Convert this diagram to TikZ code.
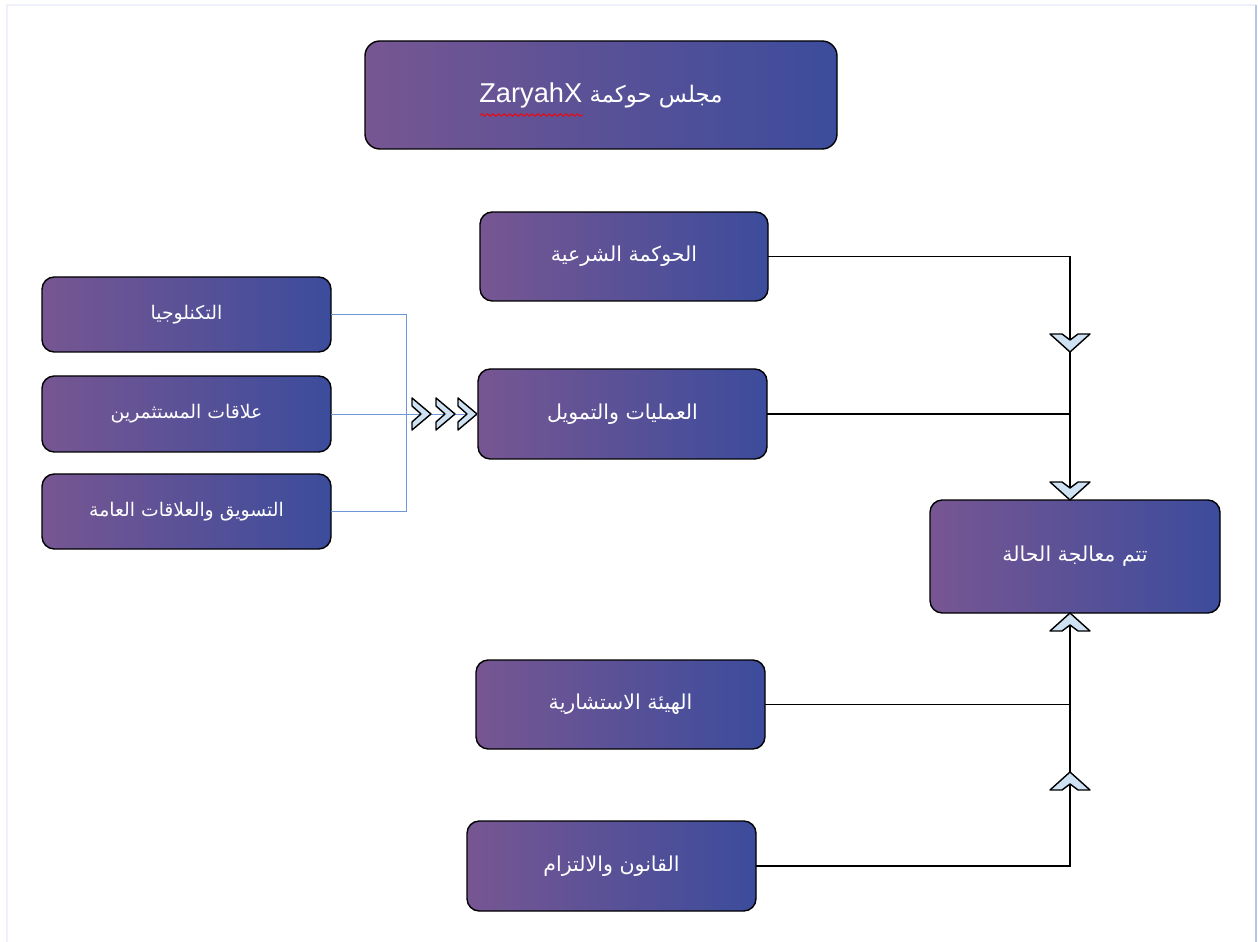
\documentclass[tikz,border=0pt]{standalone}
\usepackage{fontspec}
\usetikzlibrary{decorations.pathmorphing}
\TeXXeTstate=1
\newfontfamily\arabicfont[Script=Arabic]{DejaVu Sans}
\newfontfamily\latinfont{Liberation Sans}
\definecolor{boxL}{HTML}{775692}
\definecolor{boxR}{HTML}{3C4C9C}
\definecolor{chevfill}{HTML}{CFE2F3}
\definecolor{blueline}{HTML}{7096DA}
\definecolor{frameA}{HTML}{EEF0FA}
\definecolor{frameB}{HTML}{B8C4E8}
\tikzset{
  box/.style 2 args={draw=black, line width=0.8pt, rounded corners=7pt,
    left color=boxL, right color=boxR, text=white, outer sep=0pt, inner sep=0pt,
    minimum width=#1*0.02cm, minimum height=#2*0.02cm},
  conn/.style={draw=black, line width=0.75pt},
  bconn/.style={draw=blueline, line width=0.5pt},
  chevstyle/.style={line width=0.8pt, fill=chevfill, line join=round},
  chevV/.pic={\draw[chevstyle]
     (0,0) -- (-18,-20) -- (-18,-8) -- (-12,0) -- (-18,8) -- (-18,20) -- cycle;},
  chevH/.pic={\draw[chevstyle]
     (0,0) -- (-19,-16) -- (-19,-8) -- (-10,0) -- (-19,8) -- (-19,16) -- cycle;},
  big/.style={font=\arabicfont\fontsize{13}{16}\selectfont},
  mid/.style={font=\arabicfont\fontsize{11.7}{14}\selectfont},
  small/.style={font=\arabicfont\fontsize{10.7}{13}\selectfont},
}
\begin{document}
\begin{tikzpicture}[x=0.02cm, y=-0.02cm]
\useasboundingbox (0,0) rectangle (1258,942);
% frame
\draw[frameA, line width=1pt] (7,942) -- (7,5) -- (1256,5);
\draw[frameB, line width=1.2pt] (1256,5) -- (1256,942);

% boxes
\node[box={472}{108}, big, rounded corners=8.5pt] (top) at (601,95) {\beginR مجلس حوكمة \beginL{\latinfont\fontsize{15.5}{18}\selectfont ZaryahX}\endL\endR};
\node[box={288}{89}, mid] (hk) at (624,256.5) {\beginR الحوكمة الشرعية\endR};
\node[box={289}{90}, mid] (op) at (622.5,414) {\beginR العمليات والتمويل\endR};
\node[box={290}{113}, mid] (ca) at (1075,556.5) {\beginR تتم معالجة الحالة\endR};
\node[box={289}{89}, mid] (ad) at (620.5,704.5) {\beginR الهيئة الاستشارية\endR};
\node[box={289}{90}, mid] (lc) at (611.5,866) {\beginR القانون والالتزام\endR};
\node[box={289}{75}, small] (te) at (186.5,314.5) {\beginR التكنلوجيا\endR};
\node[box={289}{76}, small] (ir) at (186.5,414) {\beginR علاقات المستثمرين\endR};
\node[box={289}{75}, small] (mk) at (186.5,511.5) {\beginR التسويق والعلاقات العامة\endR};

% red spell-check squiggle under ZaryahX
\draw[red, line width=0.5pt, decorate, decoration={snake, amplitude=0.7pt, segment length=3.2pt}] (480,115) -- (583,115);

% junction coordinates
\coordinate (jx) at (1070,0);
\coordinate (bx) at (406,0);

% right-side connectors
\draw[conn] (hk.east) -- (hk.east -| jx) -- (jx |- ca.north);
\draw[conn] (op.east) -- (op.east -| jx);
\draw[conn] (lc.east) -- (lc.east -| jx) -- (jx |- ca.south);
\draw[conn] (ad.east) -- (ad.east -| jx);

% left blue connectors
\draw[bconn] (te.east) -- (te.east -| bx) -- (bx |- mk.east) -- (mk.east);
\draw[bconn] (ir.east) -- (op.west);

% chevrons
\pic[rotate=-90] at (1070,352) {chevV};
\pic[rotate=-90] at (1070,500) {chevV};
\pic[rotate=90] at (1070,613) {chevV};
\pic[rotate=90] at (1070,772) {chevV};
\pic at (431,414) {chevH};
\pic at (455,414) {chevH};
\pic at (477,414) {chevH};
\end{tikzpicture}
\end{document}
